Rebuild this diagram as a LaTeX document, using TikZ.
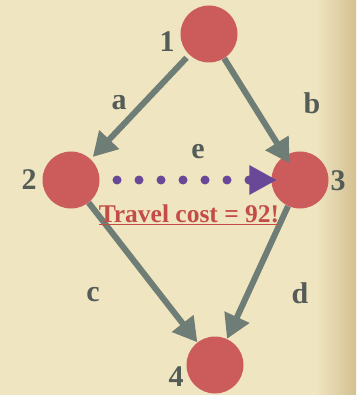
\documentclass[tikz,border=0pt]{standalone}
\usepackage{fontspec}
\setmainfont{Liberation Serif}
\usepackage{tikz}
\usetikzlibrary{arrows.meta,positioning,calc}
\usepackage{xcolor}

\definecolor{paper}{RGB}{239,229,192}
\definecolor{paperdark}{RGB}{212,192,146}
\definecolor{vertexred}{RGB}{204,92,92}
\definecolor{edgegray}{RGB}{110,125,118}
\definecolor{labelgray}{RGB}{84,92,88}
\definecolor{hoppurple}{RGB}{106,72,152}
\definecolor{costred}{RGB}{196,76,70}

\begin{document}
\begin{tikzpicture}[
    x=1pt, y=-1pt,
    vertex/.style={circle, fill=vertexred, minimum size=57pt, inner sep=0pt},
    edge/.style={-{Triangle[length=24pt,width=26pt]}, line width=6pt, draw=edgegray, fill=edgegray},
    hop/.style={-{Triangle[length=27pt,width=30pt,line width=0pt]}, line width=9pt, draw=hoppurple, fill=hoppurple},
    dot/.style={fill=hoppurple},
    lbl/.style={text=labelgray, font=\fontsize{30}{30}\selectfont\bfseries, inner sep=0pt}
]
    % Paper
    \fill[paper] (0,0) rectangle (356,395);
    \shade[left color=paper, right color=paperdark] (316,0) rectangle (356,395);
    \useasboundingbox (0,0) rectangle (356,395);

    % Vertices
    \node[vertex] (v1) at (209,34) {};
    \node[vertex] (v2) at (71,180) {};
    \node[vertex] (v3) at (300,180) {};
    \node[vertex] (v4) at (215,365) {};

    % Vertex numbers
    \node[lbl] (n1) at (167,42) {1};
    \node[lbl] (n2) at (29,180) {2};
    \node[lbl] (n3) at (338,181) {3};
    \node[lbl] (n4) at (176,377) {4};

    % Edges
    \draw[edge, shorten <=4pt, shorten >=3pt] (v1) -- (v2);
    \draw[edge, shorten >=-9pt] (v1) -- (v3);
    \draw[edge] (v2) -- (v4);
    \draw[edge] (v3) -- (v4);

    % Dotted hop 2 -> 3
    \foreach \i in {0,...,6}
        \fill[dot] ($(v2.center)+(46+22*\i,0)$) circle (4.5pt);
    \draw[hop, shorten <=150pt, shorten >=-5pt] (v2) -- (v3);

    % Edge names
    \node[lbl] (ea) at (119,103) {a};
    \node[lbl] (eb) at (312,103) {b};
    \node[lbl] (ee) at (198,152) {e};
    \node[lbl] (ec) at (93,295) {c};
    \node[lbl] (ed) at (300,293) {d};

    % Cost
    \node[text=costred, font=\fontsize{25.5}{26}\selectfont\bfseries, inner sep=0pt] (cost) at (189,215)
        {\underline{Travel cost = 92!}};
\end{tikzpicture}
\end{document}
